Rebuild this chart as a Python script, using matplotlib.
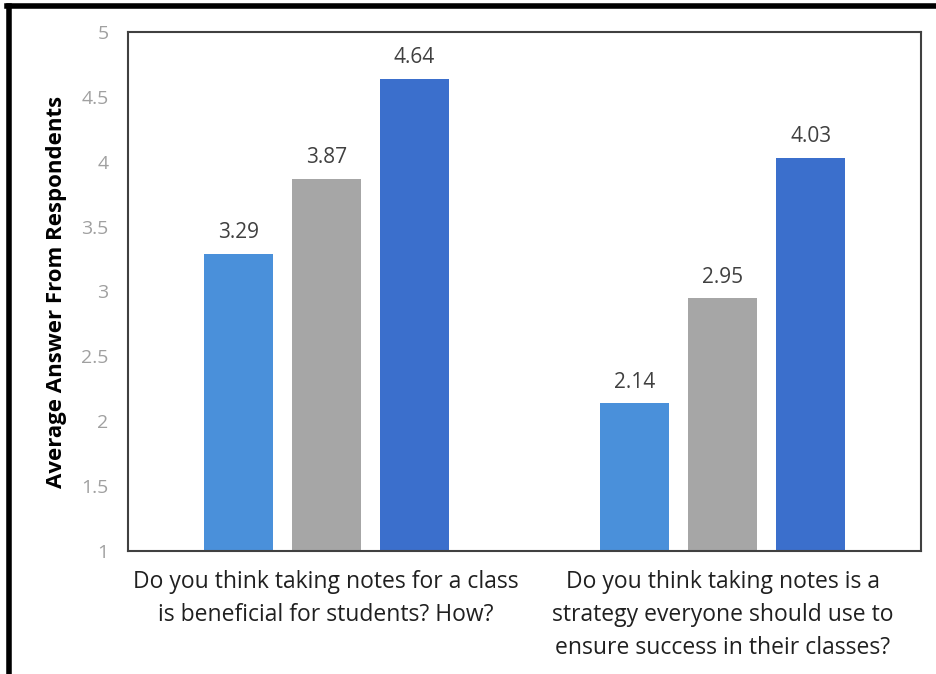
import matplotlib
matplotlib.use('Agg')
import matplotlib.pyplot as plt
from matplotlib.lines import Line2D
import numpy as np

questions = ['Do you think taking notes for a class\nis beneficial for students? How?',
             'Do you think taking notes is a\nstrategy everyone should use to\nensure success in their classes?']
series_a = [3.29, 2.14]
series_b = [3.87, 2.95]
series_c = [4.64, 4.03]
y_ticks = [1, 1.5, 2, 2.5, 3, 3.5, 4, 4.5, 5]
y_tick_labels = ['1', '1.5', '2', '2.5', '3', '3.5', '4', '4.5', '5']

colors = ['#4a90da', '#a6a6a6', '#3b6fcc']

plt.rcParams['font.family'] = ['Open Sans', 'DejaVu Sans']

fig = plt.figure(figsize=(9.36, 6.74), dpi=100)
ax = fig.add_axes([128/936, 1 - 551/674, (921-128)/936, (551-32)/674])

x = np.arange(len(questions))
w = 0.174
off = 0.222
for i, vals in enumerate([series_a, series_b, series_c]):
    bars = ax.bar(x + (i - 1) * off, [v - 1 for v in vals], bottom=1, width=w, color=colors[i])
    for b, v in zip(bars, vals):
        ax.text(b.get_x() + b.get_width() / 2, v + 0.08, f'{v:.2f}', ha='center', va='bottom',
                fontsize=15, color='#404040')

ax.set_xlim(-0.5, 1.5)
ax.set_ylim(1, 5)
ax.set_yticks(y_ticks)
ax.set_yticklabels(y_tick_labels, color='#a0a0a0', fontsize=14)
ax.tick_params(axis='y', length=0, pad=14)
ax.set_xticks(x)
ax.set_xticklabels(questions, fontsize=16.5, color='#202020', linespacing=1.5)
ax.tick_params(axis='x', length=0, pad=14)
ax.set_ylabel('Average Answer From Respondents', fontsize=16, fontweight='bold', labelpad=10)
for s in ax.spines.values():
    s.set_color('#404040')
    s.set_linewidth(1.5)

# outer frame (left and top edges)
fig.add_artist(Line2D([9/936, 9/936], [0, 1 - 6/674], color='black', lw=4, transform=fig.transFigure))
fig.add_artist(Line2D([7/936, 1], [1 - 6/674, 1 - 6/674], color='black', lw=4, transform=fig.transFigure))

plt.savefig('out.png')
plt.close()
